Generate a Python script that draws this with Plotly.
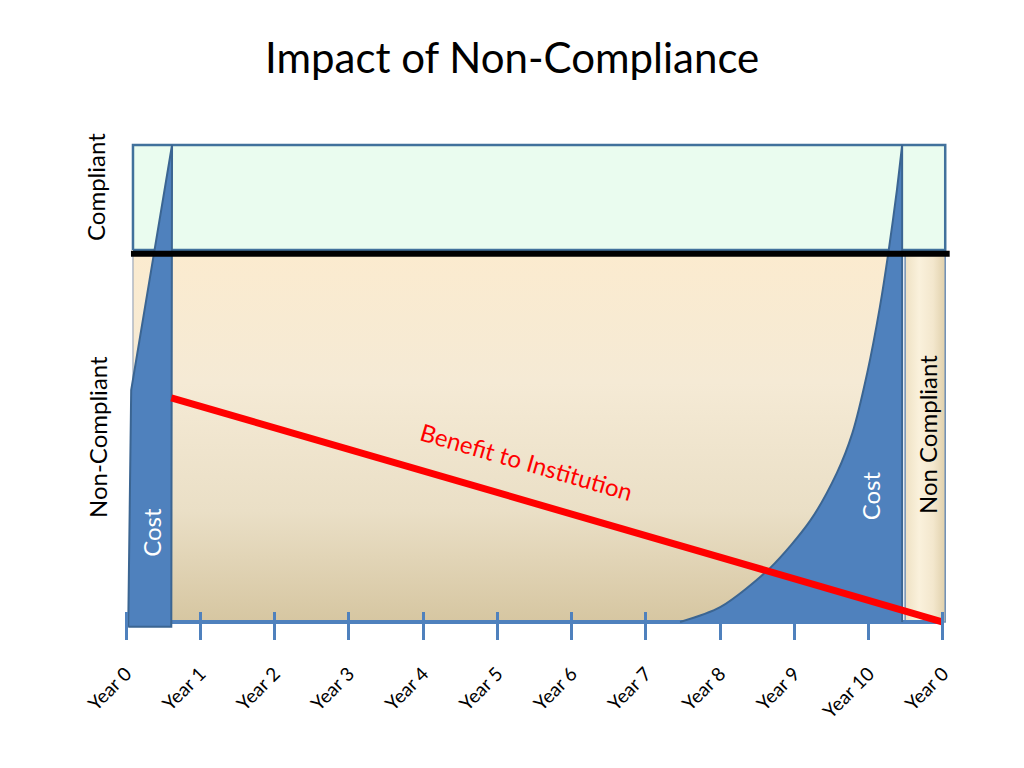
import plotly.graph_objects as go

# ---- data ----
tick_pos = [0, 1, 2, 3, 4, 5, 6, 7, 8, 9, 10, 11]
tick_labels = ["Year 0", "Year 1", "Year 2", "Year 3", "Year 4", "Year 5",
               "Year 6", "Year 7", "Year 8", "Year 9", "Year 10", "Year 0"]

threshold = 7.72          # compliant / non-compliant boundary
top_level = 10.0          # top of compliant zone

cost_left_x = [0.03, 0.07, 0.62, 0.61]
cost_left_y = [-0.1, 4.86, 10.0, -0.1]

cost_right_x = [7.46, 8.0, 8.67, 9.21, 9.57, 9.78, 9.98, 10.15, 10.27, 10.38, 10.45]
cost_right_y = [0.0, 0.31, 1.13, 2.12, 3.12, 3.96, 5.22, 6.60, 7.80, 9.06, 10.0]

benefit_x = [0.61, 11.0]
benefit_y = [4.70, 0.0]

BLUE = "#4f81bd"
EDGE = "#3b6592"

fig = go.Figure()

# compliant zone
fig.add_trace(go.Scatter(
    x=[0.094, 11.03, 11.03, 0.094, 0.094],
    y=[threshold + 0.08, threshold + 0.08, top_level, top_level, threshold + 0.08],
    fill="toself", fillcolor="#eafcef", mode="lines",
    line=dict(color="#41719c", width=2.5), hoverinfo="skip", showlegend=False))

# non-compliant zone (vertical gradient)
fig.add_trace(go.Scatter(
    x=[0.094, 10.45, 10.45, 0.094, 0.094],
    y=[0, 0, threshold, threshold, 0],
    fill="toself", mode="lines",
    fillgradient=dict(type="vertical",
                      colorscale=[[0, "#d6c6a1"], [0.3, "#eadfc6"], [0.65, "#f5ead5"], [1, "#fbebcf"]]),
    line=dict(color="#8a9ab0", width=1), hoverinfo="skip", showlegend=False))

# right non-compliant strip (horizontal gradient)
fig.add_trace(go.Scatter(
    x=[10.49, 11.03, 11.03, 10.49, 10.49],
    y=[0, 0, threshold, threshold, 0],
    fill="toself", mode="lines",
    fillgradient=dict(type="horizontal",
                      colorscale=[[0, "#eee1c3"], [0.35, "#faf1dc"], [0.7, "#f3e7cd"], [1, "#e0d0ab"]]),
    line=dict(color="#6f8fb5", width=1.5), hoverinfo="skip", showlegend=False))

# base axis line
fig.add_trace(go.Scatter(x=[0, 11], y=[0, 0], mode="lines",
                         line=dict(color=BLUE, width=4), hoverinfo="skip", showlegend=False))

# left cost
fig.add_trace(go.Scatter(
    x=cost_left_x + [cost_left_x[0]], y=cost_left_y + [cost_left_y[0]],
    fill="toself", fillcolor=BLUE, mode="lines",
    line=dict(color=EDGE, width=2), hoverinfo="skip", showlegend=False))

# right cost (curve filled down to zero)
fig.add_trace(go.Scatter(
    x=cost_right_x, y=cost_right_y,
    fill="tozeroy", fillcolor=BLUE, mode="lines",
    line=dict(color=EDGE, width=2, shape="spline", smoothing=0.8),
    hoverinfo="skip", showlegend=False))
fig.add_trace(go.Scatter(
    x=[cost_right_x[-1], cost_right_x[-1]], y=[cost_right_y[-1], 0],
    mode="lines", line=dict(color=EDGE, width=2), hoverinfo="skip", showlegend=False))

# threshold line
fig.add_trace(go.Scatter(x=[0.067, 11.09], y=[threshold, threshold], mode="lines",
                         line=dict(color="black", width=6), hoverinfo="skip", showlegend=False))

# benefit line
fig.add_trace(go.Scatter(x=benefit_x, y=benefit_y, mode="lines",
                         line=dict(color="#ff0000", width=7), hoverinfo="skip", showlegend=False))

FONT = "Lato"
common = dict(showarrow=False, xanchor="center", yanchor="middle")
annotations = [
    dict(text="Impact of Non-Compliance", xref="paper", yref="paper", x=(512 - 100) / 860,
         y=(640 - 57) / 510, font=dict(family=FONT, size=42, color="black"), **common),
    dict(text="Compliant", xref="paper", yref="paper", x=(95 - 100) / 860, y=(640 - 187) / 510,
         textangle=-90, font=dict(family=FONT, size=24, color="black"), **common),
    dict(text="Non-Compliant", xref="paper", yref="paper", x=(97 - 100) / 860, y=(640 - 437) / 510,
         textangle=-90, font=dict(family=FONT, size=24, color="black"), **common),
    dict(text="Cost", x=0.35, y=1.89, textangle=-90,
         font=dict(family=FONT, size=24, color="white"), **common),
    dict(text="Cost", x=10.02, y=2.64, textangle=-90,
         font=dict(family=FONT, size=24, color="white"), **common),
    dict(text="Non Compliant", x=10.785, y=3.92, textangle=-90,
         font=dict(family=FONT, size=24, color="black"), **common),
    dict(text="Benefit to Institution", x=5.4, y=3.375, textangle=16.2,
         font=dict(family=FONT, size=24, color="#ff0000"), **common),
]

fig.update_layout(
    width=1024, height=768,
    margin=dict(l=92, r=72, t=122, b=136),
    paper_bgcolor="white", plot_bgcolor="white",
    annotations=annotations,
    xaxis=dict(range=[-0.35, 11.229], tickvals=tick_pos, ticktext=tick_labels,
               tickangle=-45, ticks="inside", ticklen=28, tickwidth=3, tickcolor=BLUE,
               ticklabelstandoff=18, ticklabelshift=0,
               showgrid=False, zeroline=False, showline=False, automargin=False,
               tickfont=dict(family=FONT, size=19, color="black"), fixedrange=True),
    yaxis=dict(range=[-0.377, 10.314], visible=False, fixedrange=True),
)

fig.write_html("out.html")
